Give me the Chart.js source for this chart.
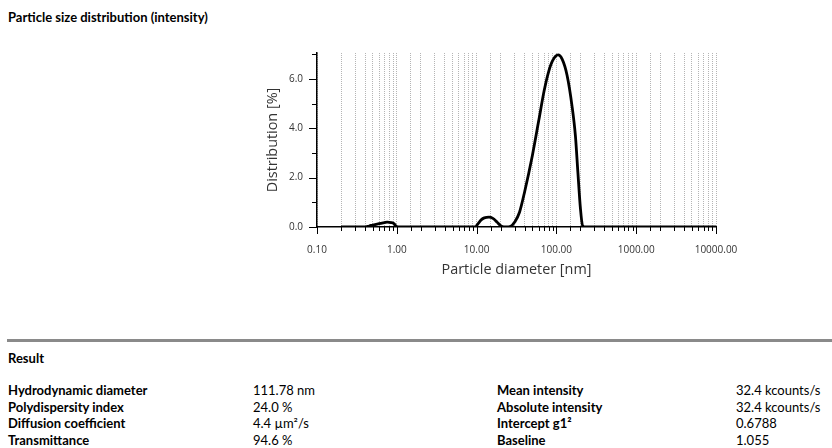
<!DOCTYPE html>
<html>
<head>
<meta charset="utf-8">
<script src="https://cdn.jsdelivr.net/npm/chart.js@4/dist/chart.umd.min.js"></script>
<style>
body{margin:0;width:832px;height:448px;background:#fff;font-family:Lato,"Open Sans",sans-serif;color:#000;position:relative;overflow:hidden}
.title{position:absolute;left:8px;top:9px;font-weight:bold;font-size:13px}
#wrap{position:absolute;left:230px;top:33px;width:530px;height:257px}
.rule{position:absolute;left:7px;right:0;top:339px;height:3px;background:#8a8a8a}
.res{position:absolute;left:8px;top:350px;font-weight:bold;font-size:13px}
table{position:absolute;left:8px;top:382px;border-collapse:collapse;font-size:13px}
td{padding:0;height:16.7px;line-height:16.7px;white-space:nowrap}
td.l{font-weight:bold}
</style>
</head>
<body>
<div class="title">Particle size distribution (intensity)</div>
<div id="wrap"><canvas id="chart"></canvas></div>
<div class="rule"></div>
<div class="res">Result</div>
<table>
<tr><td class="l" style="width:245px">Hydrodynamic diameter</td><td style="width:244px">111.78 nm</td><td class="l" style="width:239px">Mean intensity</td><td>32.4 kcounts/s</td></tr>
<tr><td class="l">Polydispersity index</td><td>24.0 %</td><td class="l">Absolute intensity</td><td>32.4 kcounts/s</td></tr>
<tr><td class="l">Diffusion coefficient</td><td>4.4 µm²/s</td><td class="l">Intercept g1²</td><td>0.6788</td></tr>
<tr><td class="l">Transmittance</td><td>94.6 %</td><td class="l">Baseline</td><td>1.055</td></tr>
</table>
<script>
// particle diameter [nm] and intensity distribution [%]
var diameters=[0.2,0.3,0.39,0.45,0.5,0.6,0.7,0.76,0.85,0.92,0.98,1.05,2,5,9.6,10.5,11.5,12.5,14.3,16,18,20,22,25,27,30,34.5,40,50,60,70,80,90,105,118,136,157,173,186,200,213,230,500,10000];
var intensity=[0,0,0,0.04,0.08,0.14,0.18,0.2,0.18,0.14,0.04,0,0,0,0,0.15,0.3,0.37,0.4,0.35,0.2,0.05,0,0,0.03,0.2,0.6,1.43,2.9,4.3,5.5,6.3,6.75,6.97,6.8,6.15,4.9,3.7,2.2,0.75,0.05,0,0,0];
var xTickLabels=[0.1,1,10,100,1000,10000];
var yTickLabels=[0,2,4,6];

var points=diameters.map(function(d,i){return {x:d,y:intensity[i]};});

var tickMarks={
  id:'tickMarks',
  afterDraw:function(c){
    var ctx=c.ctx,xs=c.scales.x,ys=c.scales.y,bottom=ys.bottom,left=xs.left;
    ctx.save();
    ctx.strokeStyle='#000';ctx.lineWidth=1;
    ctx.beginPath();
    xs.ticks.forEach(function(t){
      var px=Math.round(xs.getPixelForValue(t.value))+0.5;
      var major=xTickLabels.indexOf(t.value)>=0;
      ctx.moveTo(px,bottom);ctx.lineTo(px,bottom+(major?7:4));
    });
    ys.ticks.forEach(function(t){
      var py=Math.round(ys.getPixelForValue(t.value))+0.5;
      var major=yTickLabels.indexOf(t.value)>=0;
      ctx.moveTo(left,py);ctx.lineTo(left-(major?8:5),py);
    });
    ctx.stroke();
    ctx.restore();
  }
};

var chartConfig={
  type:'line',
  data:{datasets:[{
    data:points,
    borderColor:'#000',
    borderWidth:2.8,
    pointRadius:0,
    fill:false,
    cubicInterpolationMode:'monotone'
  }]},
  options:{
    responsive:true,
    maintainAspectRatio:false,
    animation:false,
    layout:{padding:{left:0,right:44,top:0,bottom:0}},
    plugins:{legend:{display:false},tooltip:{enabled:false}},
    scales:{
      x:{
        type:'logarithmic',min:0.1,max:10000,
        afterFit:function(s){s.height=63;},
        grid:{color:'#b5b5b5',lineWidth:1,drawTicks:false},
        border:{color:'#000',width:1.5,dash:[1,1]},
        ticks:{
          autoSkip:false,maxRotation:0,padding:17,color:'#333',
          font:{family:'"Open Sans"',size:10},
          callback:function(v){return xTickLabels.indexOf(v)>=0?v.toFixed(2):'';}
        },
        title:{display:true,text:'Particle diameter [nm]',color:'#333',font:{family:'"Open Sans"',size:14.4},padding:{top:4,bottom:11}}
      },
      y:{
        min:0,max:7.05,
        afterFit:function(s){s.width=87;},
        afterBuildTicks:function(s){var t=[];for(var v=0;v<=7;v+=0.5){t.push({value:v});}s.ticks=t;},
        grid:{display:false,drawTicks:false},
        border:{color:'#000',width:1.5},
        ticks:{
          padding:14,color:'#333',
          font:{family:'"Open Sans"',size:10},
          callback:function(v){return yTickLabels.indexOf(v)>=0?v.toFixed(1):'';}
        },
        title:{display:true,text:'Distribution [%]',color:'#333',font:{family:'"Open Sans"',size:14.4},padding:{top:34,bottom:0}}
      }
    }
  },
  plugins:[tickMarks]
};
var chart=new Chart(document.getElementById('chart'),chartConfig);
</script>
</body>
</html>
